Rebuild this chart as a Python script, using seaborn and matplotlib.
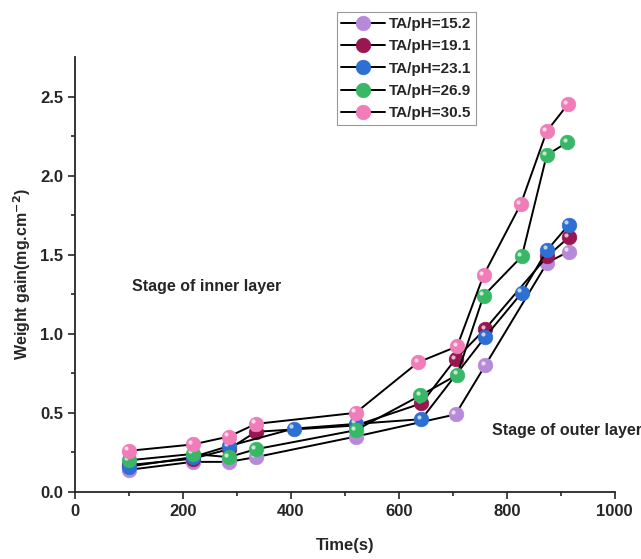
import numpy as np
import pandas as pd
import matplotlib
matplotlib.use("Agg")
import matplotlib.pyplot as plt
from matplotlib.transforms import ScaledTranslation
import seaborn as sns

# Weight gain curves (time in s, gain in mg/cm2)
t_152 = [100, 218, 285, 335, 520, 705, 760, 875, 915]
w_152 = [0.14, 0.19, 0.19, 0.22, 0.35, 0.49, 0.80, 1.45, 1.52]

t_191 = [100, 218, 285, 335, 520, 642, 705, 760, 875, 915]
w_191 = [0.17, 0.21, 0.27, 0.38, 0.42, 0.56, 0.84, 1.03, 1.49, 1.61]

t_231 = [100, 218, 285, 405, 520, 642, 760, 828, 875, 915]
w_231 = [0.16, 0.22, 0.29, 0.40, 0.43, 0.46, 0.98, 1.26, 1.53, 1.69]

t_269 = [100, 218, 285, 335, 520, 640, 708, 757, 828, 874, 912]
w_269 = [0.20, 0.24, 0.22, 0.27, 0.39, 0.61, 0.74, 1.24, 1.49, 2.13, 2.21]

t_305 = [100, 218, 285, 335, 520, 636, 708, 757, 826, 874, 913]
w_305 = [0.26, 0.30, 0.35, 0.43, 0.50, 0.82, 0.92, 1.37, 1.82, 2.28, 2.45]

labels = ["TA/pH=15.2", "TA/pH=19.1", "TA/pH=23.1", "TA/pH=26.9", "TA/pH=30.5"]
times = [t_152, t_191, t_231, t_269, t_305]
gains = [w_152, w_191, w_231, w_269, w_305]
colors = ["#b68ad8", "#9a1650", "#2d6fd2", "#38b867", "#f07cb8"]

frames = []
for lab, t, w in zip(labels, times, gains):
    frames.append(pd.DataFrame({"Time": t, "Gain": w, "Series": lab}))
df = pd.concat(frames, ignore_index=True)

sns.set_style("ticks")
plt.rcParams["font.family"] = ["Liberation Sans", "DejaVu Sans"]
plt.rcParams["font.weight"] = "bold"

fig = plt.figure(figsize=(6.41, 5.59), dpi=100)
ax = fig.add_axes([0.117, 0.12, 0.842, 0.778])

# glossy highlight: small white dot shifted up-left of each ball
shine = ax.transData + ScaledTranslation(-1.8 / 72, 1.8 / 72, fig.dpi_scale_trans)

for i, (lab, col) in enumerate(zip(labels, colors)):
    sub = df[df["Series"] == lab]
    sns.lineplot(data=sub, x="Time", y="Gain", ax=ax, color="black", lw=1.4,
                 marker="o", markersize=10.5, markerfacecolor=col,
                 markeredgecolor=col, markeredgewidth=0.5, label=lab,
                 sort=False, estimator=None, zorder=3 + 2 * i)
    ax.scatter(sub["Time"], sub["Gain"], marker="o", s=9, color="white",
               alpha=0.7, linewidths=0, zorder=4 + 2 * i, transform=shine)

ax.set_xlim(0, 1000)
ax.set_ylim(0, 2.75)
ax.set_xticks([0, 200, 400, 600, 800, 1000])
ax.set_xticks([100, 300, 500, 700, 900], minor=True)
ax.set_yticks([0.0, 0.5, 1.0, 1.5, 2.0, 2.5])
ax.set_yticks([0.25, 0.75, 1.25, 1.75, 2.25], minor=True)
ax.yaxis.set_major_formatter(matplotlib.ticker.FormatStrFormatter("%.1f"))
ax.tick_params(axis="both", which="major", length=5, width=1.2, labelsize=12)
ax.tick_params(axis="both", which="minor", length=3, width=1.2)
for lbl in ax.get_xticklabels() + ax.get_yticklabels():
    lbl.set_fontweight("bold")
for s in ["left", "bottom"]:
    ax.spines[s].set_linewidth(1.3)
sns.despine(ax=ax)

ax.set_xlabel("Time(s)", fontsize=12, fontweight="bold", labelpad=14)
ax.set_ylabel("Weight gain(mg.cm$^{\\mathbf{-2}}$)", fontsize=11.5,
              fontweight="bold", labelpad=5)

ax.text(106, 1.30, "Stage of inner layer", fontsize=11.5, fontweight="bold",
        va="center", ha="left")
ax.text(772, 0.39, "Stage of outer layer", fontsize=11.5, fontweight="bold",
        va="center", ha="left", clip_on=False)

leg = ax.legend(loc="upper left", bbox_to_anchor=(0.525, 0.978),
                bbox_transform=fig.transFigure, frameon=True, fancybox=False,
                fontsize=11, handlelength=2.9, borderpad=0.3,
                labelspacing=0.55, handletextpad=0.25, borderaxespad=0)
leg.get_frame().set_edgecolor("#999999")
leg.get_frame().set_linewidth(0.8)
leg.get_frame().set_alpha(1)
leg.set_zorder(20)
for txt in leg.get_texts():
    txt.set_fontweight("bold")

fig.savefig("out.png", dpi=100)
